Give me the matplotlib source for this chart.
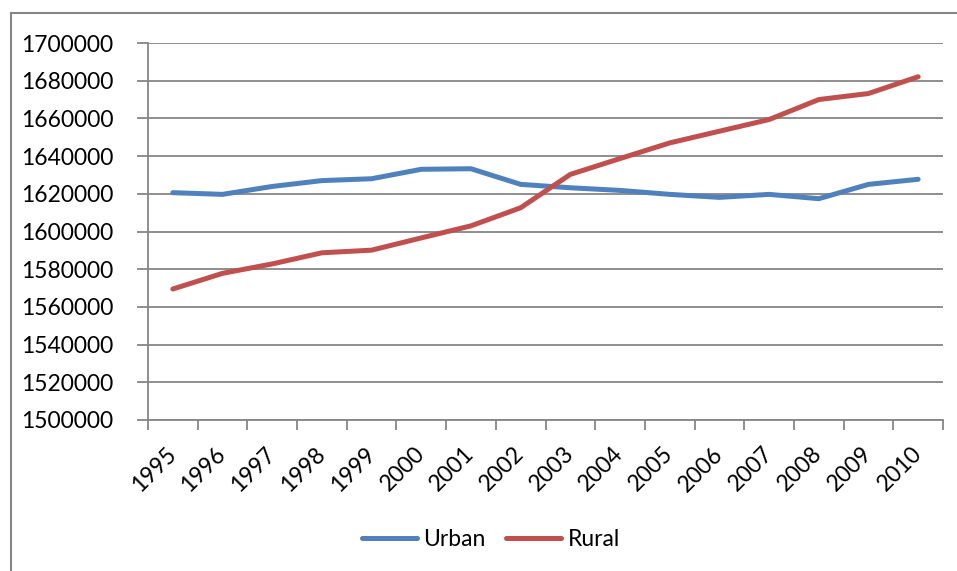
import matplotlib.pyplot as plt
from matplotlib.lines import Line2D
import numpy as np

# datos
years = ['1995', '1996', '1997', '1998', '1999', '2000', '2001', '2002',
         '2003', '2004', '2005', '2006', '2007', '2008', '2009', '2010']
urban = [1620600, 1619700, 1623900, 1627000, 1628000, 1633000, 1633300, 1625000,
         1623200, 1621800, 1619700, 1618100, 1619700, 1617400, 1625000, 1627700]
rural = [1569500, 1577800, 1582800, 1588700, 1590100, 1596600, 1603000, 1612600,
         1630300, 1638700, 1647000, 1653200, 1659400, 1670000, 1673200, 1682100]
y_ticks = list(range(1500000, 1700001, 20000))

plt.rcParams['font.family'] = ['Lato', 'DejaVu Sans']
gris = '#868686'

fig = plt.figure(figsize=(9.57, 5.71), dpi=100)
ax = fig.add_axes([148/957, 1 - 420/571, (943 - 148)/957, (420 - 43)/571])

x = np.arange(len(years))
ax.plot(x, urban, color='#4F81BD', linewidth=3.6, label='Urban', solid_capstyle='round')
ax.plot(x, rural, color='#C0504D', linewidth=3.6, label='Rural', solid_capstyle='round')

ax.set_xlim(-0.5, len(years) - 0.5)
ax.set_ylim(1500000, 1700000)
ax.set_yticks(y_ticks)
ax.set_yticklabels([str(v) for v in y_ticks])
ax.yaxis.grid(True, color=gris, linewidth=1.3)
ax.set_axisbelow(True)

# ticks de categoria en los bordes, etiquetas en el centro
ax.set_xticks(x)
ax.set_xticks(np.arange(-0.5, len(years)), minor=True)
ax.set_xticklabels(years, rotation=45, ha='right', va='center', rotation_mode='anchor')
ax.tick_params(axis='x', which='major', length=0, pad=22, labelsize=16.5)
ax.tick_params(axis='x', which='minor', length=7, width=1.3, color=gris)
ax.tick_params(axis='y', length=8, width=1.3, color=gris, pad=17, labelsize=16.5)

for s in ['top', 'right']:
    ax.spines[s].set_visible(False)
for s in ['left', 'bottom']:
    ax.spines[s].set_color(gris)
    ax.spines[s].set_linewidth(1.3)

# marco exterior del grafico
fig.add_artist(Line2D([11/957, 11/957], [0, 1 - 13/571], color=gris, linewidth=1.5))
fig.add_artist(Line2D([11/957, 1], [1 - 13/571, 1 - 13/571], color=gris, linewidth=1.5))

fig.legend(loc='center', bbox_to_anchor=(491/957, 1 - 540/571), ncol=2, frameon=False,
           fontsize=16.5, handlelength=2.4, handletextpad=0.3, columnspacing=0.9)

fig.savefig('out.png', dpi=100)
